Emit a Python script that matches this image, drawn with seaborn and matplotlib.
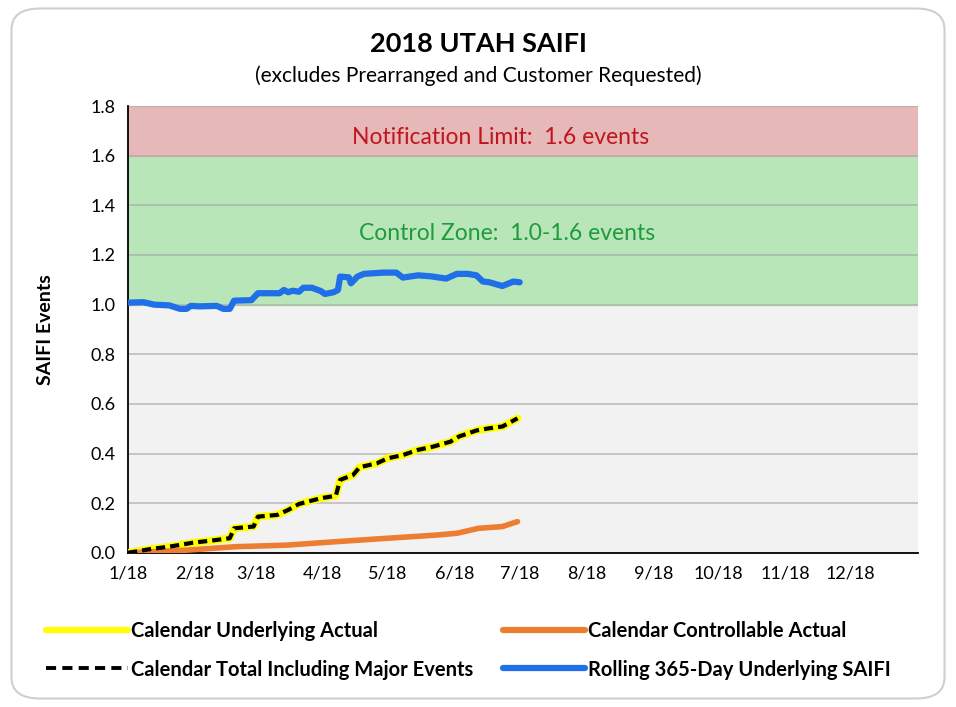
import numpy as np
import pandas as pd
import matplotlib
matplotlib.use("Agg")
import matplotlib.pyplot as plt
from matplotlib.patches import FancyBboxPatch
from matplotlib.lines import Line2D
import seaborn as sns

# ---- data (day of year 2018, SAIFI events) ----
rolling_days = [0, 7, 12, 19, 24, 27, 29, 33, 41, 44, 47, 49, 57, 60, 70, 72, 74, 76, 79, 81,
                85, 89, 91, 95, 97, 98, 102, 103, 106, 109, 118, 124, 127, 134, 140, 147, 152,
                157, 161, 164, 167, 173, 178, 181]
rolling_vals = [1.008, 1.010, 1.000, 0.997, 0.983, 0.983, 0.995, 0.993, 0.995, 0.983, 0.983, 1.016,
                1.018, 1.046, 1.046, 1.059, 1.050, 1.056, 1.052, 1.068, 1.068, 1.055, 1.043, 1.050,
                1.059, 1.113, 1.110, 1.086, 1.113, 1.124, 1.129, 1.129, 1.109, 1.118, 1.114, 1.105,
                1.124, 1.124, 1.118, 1.093, 1.090, 1.075, 1.093, 1.090]

calendar_days = [0, 10, 19, 30, 39, 47, 49, 58, 60, 69, 74, 79, 89, 96, 98, 104, 107, 115, 120,
                 127, 134, 141, 149, 153, 161, 167, 173, 180]
underlying_vals = [0.000, 0.015, 0.025, 0.041, 0.050, 0.059, 0.099, 0.106, 0.146, 0.153, 0.173,
                   0.197, 0.220, 0.230, 0.294, 0.314, 0.345, 0.361, 0.381, 0.394, 0.415, 0.428,
                   0.448, 0.469, 0.493, 0.502, 0.509, 0.542]
total_vals = list(underlying_vals)

controllable_days = [0, 27, 50, 73, 96, 120, 143, 152, 162, 173, 180]
controllable_vals = [0.000, 0.011, 0.025, 0.031, 0.045, 0.059, 0.072, 0.079, 0.099, 0.106, 0.126]

month_starts = [0, 31, 59, 90, 120, 151, 181, 212, 243, 273, 304, 334]
month_labels = ["1/18", "2/18", "3/18", "4/18", "5/18", "6/18", "7/18", "8/18",
                "9/18", "10/18", "11/18", "12/18"]

rolling = pd.DataFrame({"day": rolling_days, "saifi": rolling_vals})
underlying = pd.DataFrame({"day": calendar_days, "saifi": underlying_vals})
total = pd.DataFrame({"day": calendar_days, "saifi": total_vals})
controllable = pd.DataFrame({"day": controllable_days, "saifi": controllable_vals})

sns.set_style("white")
plt.rcParams["font.family"] = ["Lato", "DejaVu Sans"]
plt.rcParams["text.color"] = "black"

fig = plt.figure(figsize=(9.56, 7.07), dpi=100)
fig.patches.append(FancyBboxPatch((0.012, 0.012), 0.976, 0.976,
                                  boxstyle="round,pad=0,rounding_size=0.03",
                                  transform=fig.transFigure, facecolor="none",
                                  edgecolor="#cfcfcf", linewidth=1.5, zorder=-1))
ax = fig.add_axes([0.134, 0.218, 0.826, 0.632])

# zones
ax.axhspan(0, 1.0, color="#f2f2f2", zorder=0)
ax.axhspan(1.0, 1.6, color="#b9e6b9", zorder=0)
ax.axhspan(1.6, 1.8, color="#e6b9b8", zorder=0)
for yv in np.arange(0.2, 1.81, 0.2):
    ax.axhline(yv, color="#a6a6a6", lw=1.2, zorder=1, alpha=0.7)

sns.lineplot(data=underlying, x="day", y="saifi", ax=ax, color="#ffff00", lw=5.5, zorder=3)
sns.lineplot(data=total, x="day", y="saifi", ax=ax, color="black", lw=3, zorder=4,
             linestyle=(0, (2.2, 1.2)))
sns.lineplot(data=controllable, x="day", y="saifi", ax=ax, color="#ed7d31", lw=4, zorder=3)
sns.lineplot(data=rolling, x="day", y="saifi", ax=ax, color="#1f6fe8", lw=4.5, zorder=3)

ax.text(172, 1.675, "Notification Limit:  1.6 events", color="#c0141e", fontsize=16.5,
        ha="center", va="center")
ax.text(175, 1.288, "Control Zone:  1.0-1.6 events", color="#1f9a3c", fontsize=16.5,
        ha="center", va="center")

ax.set_xlim(0, 365)
ax.set_ylim(0, 1.8)
ax.set_yticks(np.arange(0, 1.81, 0.2))
ax.set_yticklabels([f"{v:.1f}" for v in np.arange(0, 1.81, 0.2)], fontsize=13)
ax.set_xticks(month_starts + [365])
ax.set_xticklabels(month_labels + [""], fontsize=13)
ax.tick_params(axis="both", direction="out", length=5, width=1.2, color="black",
               labelcolor="black", pad=4)
ax.set_xlabel("")
ax.set_ylabel("SAIFI Events", fontsize=14, fontweight="bold", labelpad=26, color="black")
for side in ["top", "right"]:
    ax.spines[side].set_visible(False)
for side in ["left", "bottom"]:
    ax.spines[side].set_color("black")
    ax.spines[side].set_linewidth(1.3)

fig.text(0.5, 0.938, "2018 UTAH SAIFI", ha="center", va="center", fontsize=19.5,
         fontweight="bold")
fig.text(0.5, 0.893, "(excludes Prearranged and Customer Requested)", ha="center", va="center",
         fontsize=15)

handles = [Line2D([], [], color="#ffff00", lw=4.5),
           Line2D([], [], color="black", lw=2.8, linestyle=(0, (2.6, 1.6))),
           Line2D([], [], color="#ed7d31", lw=4.5),
           Line2D([], [], color="#1f6fe8", lw=4.5)]
labels = ["Calendar Underlying Actual", "Calendar Total Including Major Events",
          "Calendar Controllable Actual", "Rolling 365-Day Underlying SAIFI"]
leg = fig.legend(handles, labels, ncol=2, loc="center left", bbox_to_anchor=(0.029, 0.080),
                 frameon=False, handlelength=4.1, handletextpad=0.15, columnspacing=1.45,
                 labelspacing=0.9, prop={"weight": "bold", "size": 14.5})

fig.savefig("out.png", dpi=100, facecolor="white")
